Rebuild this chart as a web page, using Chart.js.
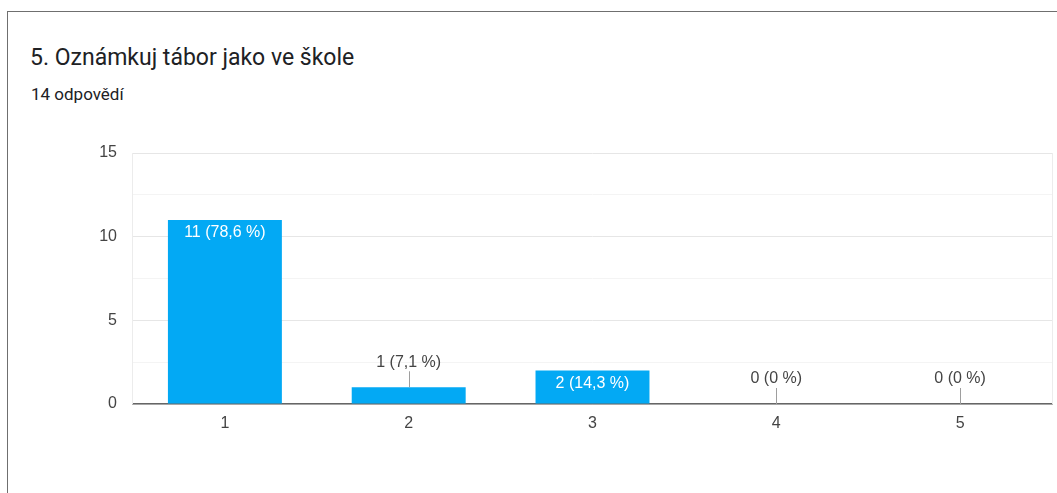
<!DOCTYPE html>
<html>
<head>
<meta charset="utf-8">
<script src="https://cdn.jsdelivr.net/npm/chart.js@4"></script>
<style>
  html, body { margin: 0; padding: 0; background: #fff; }
  body { width: 1057px; height: 493px; position: relative; overflow: hidden; }
  .card {
    position: absolute; left: 7px; top: 11px; width: 1100px; height: 600px;
    border: 1px solid #6f6f6f; box-sizing: border-box;
  }
  .title {
    position: absolute; left: 30px; top: 46px;
    font-family: Roboto, "Noto Sans", sans-serif; font-size: 23px; color: #202124;
    white-space: nowrap; line-height: 23px;
  }
  .subtitle {
    position: absolute; left: 31px; top: 86px;
    font-family: Roboto, "Noto Sans", sans-serif; font-size: 17px; color: #202124;
    white-space: nowrap; line-height: 17px;
  }
  #chartWrap { position: absolute; left: 0; top: 0; width: 1057px; height: 493px; }
</style>
</head>
<body>
<div class="card"></div>
<div class="title">5. Oznámkuj tábor jako ve škole</div>
<div class="subtitle">14 odpovědí</div>
<div id="chartWrap"><canvas id="chart"></canvas></div>
<script>
// grades 1..5, number of answers, share in %
const categories = ['1', '2', '3', '4', '5'];
const counts = [11, 1, 2, 0, 0];
const percentLabels = ['78,6 %', '7,1 %', '14,3 %', '0 %', '0 %'];
const yTicks = [0, 5, 10, 15];

const barColor = '#03a9f4';
const fontFamily = '"Liberation Sans", Arial, sans-serif';

// value labels: inside the bar in white, or above it with a little leader line
const barLabels = {
    id: 'barLabels',
    afterDatasetsDraw(chart) {
        const ctx = chart.ctx;
        const meta = chart.getDatasetMeta(0);
        ctx.save();
        ctx.font = '16px ' + fontFamily;
        ctx.textAlign = 'center';
        ctx.textBaseline = 'middle';
        meta.data.forEach((bar, i) => {
            const text = counts[i] + ' (' + percentLabels[i] + ')';
            const h = bar.base - bar.y;
            if (h > 24) {
                ctx.fillStyle = '#ffffff';
                ctx.fillText(text, bar.x, bar.y + 13);
            } else {
                ctx.strokeStyle = '#9e9e9e';
                ctx.lineWidth = 1;
                ctx.beginPath();
                ctx.moveTo(Math.round(bar.x) + 0.5, bar.y);
                ctx.lineTo(Math.round(bar.x) + 0.5, bar.y - 16);
                ctx.stroke();
                ctx.fillStyle = '#444444';
                ctx.fillText(text, bar.x, bar.y - 25);
            }
        });
        ctx.restore();
    }
};

// faint frame lines on the left and right edge of the plot
const plotEdges = {
    id: 'plotEdges',
    beforeDatasetsDraw(chart) {
        const { ctx, chartArea } = chart;
        ctx.save();
        ctx.strokeStyle = '#ececec';
        ctx.lineWidth = 1;
        ctx.beginPath();
        ctx.moveTo(Math.round(chartArea.left) - 0.5, chartArea.top);
        ctx.lineTo(Math.round(chartArea.left) - 0.5, chartArea.bottom);
        ctx.moveTo(Math.round(chartArea.right) + 0.5, chartArea.top);
        ctx.lineTo(Math.round(chartArea.right) + 0.5, chartArea.bottom);
        ctx.stroke();
        ctx.restore();
    }
};

new Chart(document.getElementById('chart'), {
    type: 'bar',
    data: {
        labels: categories,
        datasets: [{
            data: counts,
            backgroundColor: barColor,
            borderWidth: 0,
            categoryPercentage: 1,
            barPercentage: 0.62
        }]
    },
    options: {
        responsive: true,
        maintainAspectRatio: false,
        animation: false,
        events: [],
        layout: { padding: { top: 153, right: 5, bottom: 59, left: 0 } },
        plugins: {
            legend: { display: false },
            tooltip: { enabled: false }
        },
        scales: {
            x: {
                grid: { display: false },
                border: { display: true, color: '#666666', width: 1.5 },
                ticks: { color: '#444444', font: { family: fontFamily, size: 16 }, padding: 2 },
                afterFit(scale) { scale.height = 30; }
            },
            y: {
                min: 0,
                max: 15,
                afterBuildTicks(scale) {
                    // major ticks plus the lighter in-between lines
                    const t = [];
                    yTicks.forEach((v, i) => {
                        t.push({ value: v });
                        if (i < yTicks.length - 1) t.push({ value: (v + yTicks[i + 1]) / 2 });
                    });
                    scale.ticks = t;
                },
                grid: {
                    drawTicks: false,
                    color: (c) => (c.tick && yTicks.includes(c.tick.value)) ? '#e6e6e6' : '#f4f4f4'
                },
                border: { display: false },
                ticks: {
                    color: '#444444',
                    font: { family: fontFamily, size: 16 },
                    padding: 16,
                    callback: (v) => yTicks.includes(v) ? String(v) : ''
                },
                afterFit(scale) { scale.width = 133; }
            }
        }
    },
    plugins: [plotEdges, barLabels]
});
</script>
</body>
</html>
